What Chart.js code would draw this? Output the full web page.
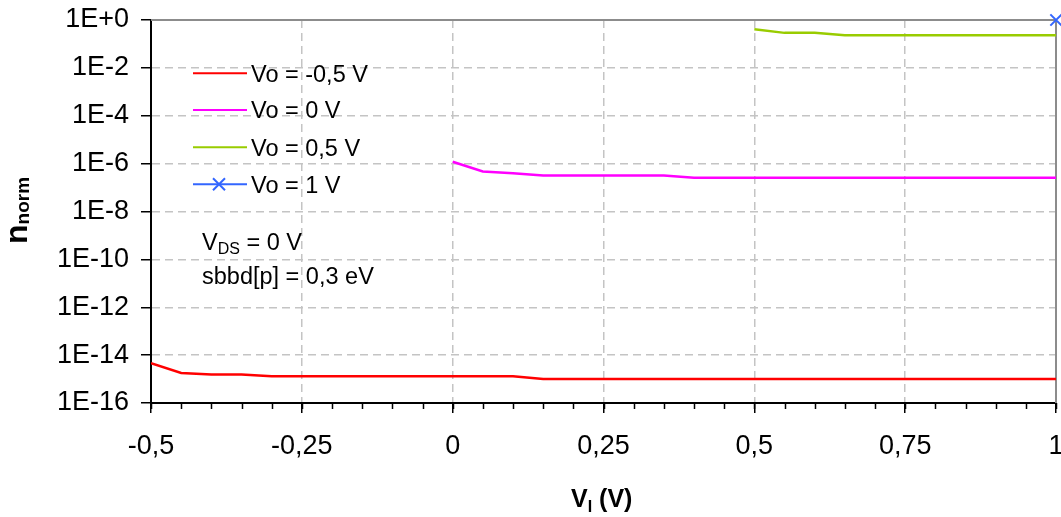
<!DOCTYPE html>
<html>
<head>
<meta charset="utf-8">
<script src="https://cdn.jsdelivr.net/npm/chart.js@4.4.1/dist/chart.umd.min.js"></script>
<style>
  body { margin: 0; background: #fff; }
  canvas { display: block; }
</style>
</head>
<body>
<canvas id="chart" width="1061" height="517"></canvas>
<script>
// V_I sweep (V)
let xValues = [-0.5, -0.45, -0.4, -0.35, -0.3, -0.25, -0.2, -0.15, -0.1, -0.05,
  0, 0.05, 0.1, 0.15, 0.2, 0.25, 0.3, 0.35, 0.4, 0.45,
  0.5, 0.55, 0.6, 0.65, 0.7, 0.75, 0.8, 0.85, 0.9, 0.95, 1];

// n_norm per Vo
let redValues = [4.6e-15, 1.8e-15, 1.55e-15, 1.55e-15, 1.3e-15, 1.3e-15, 1.3e-15, 1.3e-15, 1.3e-15, 1.3e-15,
  1.3e-15, 1.3e-15, 1.3e-15, 1.0e-15, 1.0e-15, 1.0e-15, 1.0e-15, 1.0e-15, 1.0e-15, 1.0e-15,
  1.0e-15, 1.0e-15, 1.0e-15, 1.0e-15, 1.0e-15, 1.0e-15, 1.0e-15, 1.0e-15, 1.0e-15, 1.0e-15, 1.0e-15];
let magentaValues = [1.2e-6, 4.7e-7, 4.0e-7, 3.2e-7, 3.2e-7, 3.2e-7, 3.2e-7, 3.2e-7, 2.6e-7, 2.6e-7,
  2.6e-7, 2.6e-7, 2.6e-7, 2.6e-7, 2.6e-7, 2.6e-7, 2.6e-7, 2.6e-7, 2.6e-7, 2.6e-7, 2.6e-7];
let greenValues = [0.41, 0.29, 0.29, 0.23, 0.23, 0.23, 0.23, 0.23, 0.23, 0.23, 0.23];
let blueX = [1];
let blueValues = [1];

let seriesLabels = ["Vo = -0,5 V", "Vo = 0 V", "Vo = 0,5 V", "Vo = 1 V"];
let seriesColors = ["#ff0000", "#ff00ff", "#99cc00", "#3366ff"];

let xTickValues = [-0.5, -0.25, 0, 0.25, 0.5, 0.75, 1];
let xTickLabels = ["-0,5", "-0,25", "0", "0,25", "0,5", "0,75", "1"];
let yTickValues = [1, 1e-2, 1e-4, 1e-6, 1e-8, 1e-10, 1e-12, 1e-14, 1e-16];
let yTickLabels = ["1E+0", "1E-2", "1E-4", "1E-6", "1E-8", "1E-10", "1E-12", "1E-14", "1E-16"];

const FONT = "'Liberation Sans', Arial, sans-serif";

function pts(xs, ys) {
  // pair the last ys.length x values with ys
  let off = xs.length - ys.length;
  return ys.map((y, i) => ({ x: xs[off + i], y: y }));
}

const extras = {
  id: "extras",
  beforeDatasetsDraw(chart) {
    let ctx = chart.ctx, a = chart.chartArea;
    ctx.save();
    ctx.strokeStyle = "#8c8c8c";
    ctx.lineWidth = 2;
    ctx.beginPath();
    ctx.moveTo(a.left, a.top);
    ctx.lineTo(a.right, a.top);
    ctx.lineTo(a.right, a.bottom);
    ctx.stroke();
    ctx.restore();
  },
  afterDraw(chart) {
    let ctx = chart.ctx, a = chart.chartArea;
    let xs = chart.scales.x;
    ctx.save();

    // minor ticks on x axis
    ctx.strokeStyle = "#000";
    ctx.lineWidth = 1.5;
    ctx.beginPath();
    xValues.forEach(v => {
      let px = Math.round(xs.getPixelForValue(v)) + 0.5;
      ctx.moveTo(px, a.bottom);
      ctx.lineTo(px, a.bottom + 6);
    });
    ctx.stroke();

    // legend
    let rows = [73.3, 110, 147.3, 184.3];
    ctx.font = "23.5px " + FONT;
    ctx.textBaseline = "alphabetic";
    ctx.textAlign = "left";
    seriesLabels.forEach((lab, i) => {
      ctx.strokeStyle = seriesColors[i];
      ctx.lineWidth = 2;
      ctx.beginPath();
      ctx.moveTo(193, rows[i]);
      ctx.lineTo(247, rows[i]);
      ctx.stroke();
      if (i === 3) {
        ctx.beginPath();
        ctx.moveTo(213, rows[i] - 6); ctx.lineTo(225, rows[i] + 6);
        ctx.moveTo(225, rows[i] - 6); ctx.lineTo(213, rows[i] + 6);
        ctx.stroke();
      }
      ctx.fillStyle = "#000";
      ctx.fillText(lab, 251, rows[i] + 8.4);
    });

    // annotation
    let x0 = 202;
    ctx.fillText("V", x0, 249.5);
    let w = ctx.measureText("V").width;
    ctx.font = "16px " + FONT;
    ctx.fillText("DS", x0 + w, 254);
    w += ctx.measureText("DS").width;
    ctx.font = "23.5px " + FONT;
    ctx.fillText(" = 0 V", x0 + w, 249.5);
    ctx.fillText("sbbd[p] = 0,3 eV", x0, 284);

    // x title
    let tx = 571;
    ctx.font = "bold 25px " + FONT;
    ctx.fillText("V", tx, 507);
    w = ctx.measureText("V").width;
    ctx.font = "bold 16px " + FONT;
    ctx.fillText("I", tx + w, 512);
    w += ctx.measureText("I").width;
    ctx.font = "bold 25px " + FONT;
    ctx.fillText(" (V)", tx + w, 507);

    // y title
    ctx.translate(27, 244);
    ctx.rotate(-Math.PI / 2);
    ctx.font = "bold 32px " + FONT;
    ctx.fillText("n", 0, 0);
    w = ctx.measureText("n").width;
    ctx.font = "bold 19px " + FONT;
    ctx.fillText("norm", w, 2);

    ctx.restore();
  }
};

let ctx = document.getElementById("chart").getContext("2d");
new Chart(ctx, {
  type: "line",
  data: {
    datasets: [
      { label: seriesLabels[0], data: pts(xValues, redValues), borderColor: seriesColors[0], borderWidth: 2.5, pointRadius: 0, tension: 0 },
      { label: seriesLabels[1], data: pts(xValues, magentaValues), borderColor: seriesColors[1], borderWidth: 2.5, pointRadius: 0, tension: 0 },
      { label: seriesLabels[2], data: pts(xValues, greenValues), borderColor: seriesColors[2], borderWidth: 2.5, pointRadius: 0, tension: 0 },
      { label: seriesLabels[3], data: pts(blueX, blueValues), borderColor: seriesColors[3], backgroundColor: seriesColors[3],
        showLine: false, pointStyle: "crossRot", pointRadius: 8, pointBorderWidth: 2, clip: false }
    ]
  },
  options: {
    responsive: false,
    animation: false,
    layout: { autoPadding: false, padding: { top: 20, right: 5, left: 0, bottom: 0 } },
    plugins: { legend: { display: false }, tooltip: { enabled: false } },
    scales: {
      x: {
        type: "linear", min: -0.5, max: 1,
        afterBuildTicks: s => { s.ticks = xTickValues.map(v => ({ value: v })); },
        afterFit: s => { s.height = 114; s.paddingLeft = 0; s.paddingRight = 0; },
        ticks: { callback: (v, i) => xTickLabels[i], font: { family: FONT, size: 27 }, color: "#000", padding: 17, maxRotation: 0, autoSkip: false },
        grid: { color: "#c4c4c4", lineWidth: 1.5, tickLength: 10, tickColor: "#000", tickWidth: 1.5 },
        border: { color: "#000", width: 2, dash: [8, 5] }
      },
      y: {
        type: "logarithmic", min: 1e-16, max: 1,
        afterBuildTicks: s => { s.ticks = yTickValues.slice().reverse().map(v => ({ value: v })); },
        afterFit: s => { s.width = 151; s.paddingTop = 0; s.paddingBottom = 0; },
        ticks: { callback: (v, i) => yTickLabels[yTickLabels.length - 1 - i], font: { family: FONT, size: 27 }, color: "#000", padding: 12, autoSkip: false },
        grid: { color: "#c4c4c4", lineWidth: 1.5, tickLength: 10, tickColor: "#000", tickWidth: 1.5 },
        border: { color: "#000", width: 2, dash: [8, 5] }
      }
    }
  },
  plugins: [extras]
});
</script>
</body>
</html>
